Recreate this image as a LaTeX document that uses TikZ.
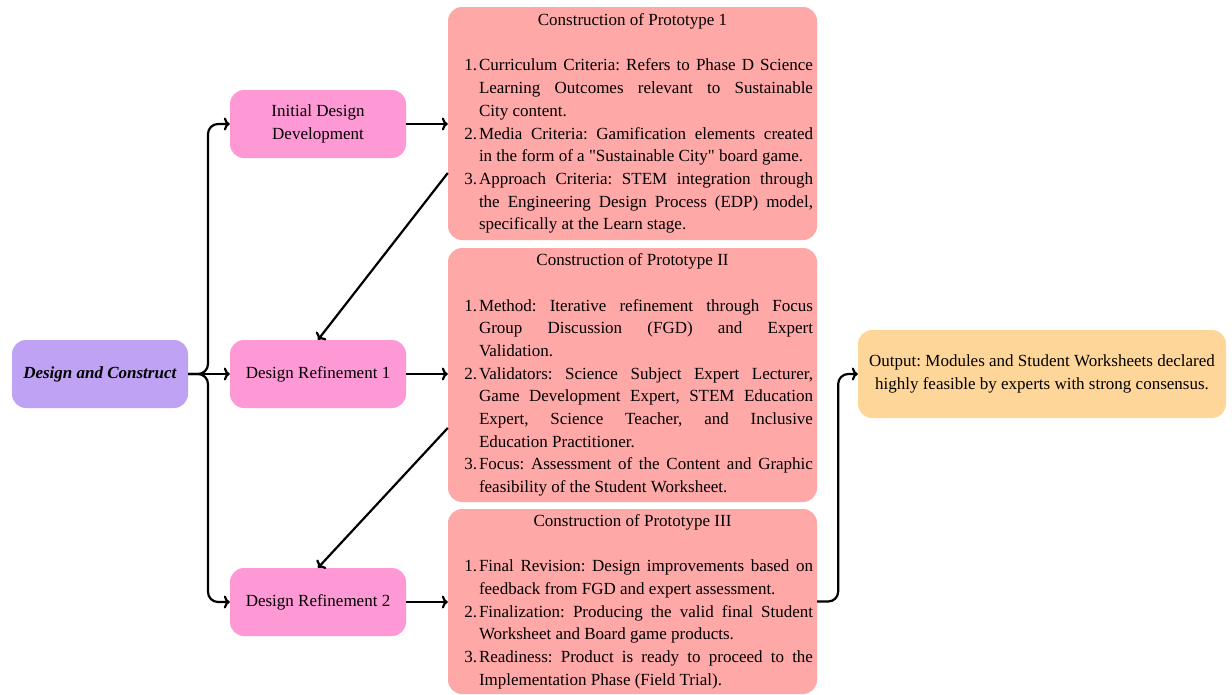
\documentclass[tikz,border=0pt]{standalone}
\usepackage{fontspec}
\setmainfont{Liberation Serif}
\usepackage{enumitem}
\usetikzlibrary{arrows.meta}
\setlist[enumerate]{leftmargin=27pt,labelsep=2pt,itemsep=0pt,topsep=0pt,parsep=0pt,partopsep=0pt}
\definecolor{phasecol}{HTML}{C0A2F4}
\definecolor{stagecol}{HTML}{FF99D6}
\definecolor{protocol}{HTML}{FFA8A8}
\definecolor{outcol}{HTML}{FFD699}
\newcommand{\bodyfont}{\fontsize{17}{22.7}\selectfont}
\hyphenpenalty=10000
\exhyphenpenalty=10000
\tolerance=9999
\emergencystretch=20pt
\frenchspacing

\begin{document}
\begin{tikzpicture}[x=1pt,y=-1pt,
    box/.style={rounded corners=14pt, inner sep=0pt, align=center, font=\bodyfont},
    stage/.style={box, fill=stagecol, minimum width=176, minimum height=68},
    proto/.style={rounded corners=14pt, fill=protocol, minimum width=369, text width=361, inner sep=4pt, align=justify, font=\bodyfont},
    link/.style={line width=2.2pt, -{To[length=6pt,width=13pt]}}]
        \useasboundingbox (0,0) rectangle (1232,694);
        \node[box, fill=phasecol, minimum width=176, minimum height=68] (dc) at (100,374) {\textbf{\textit{Design and Construct}}};
        \node[stage] (idd) at (318,124) {Initial Design\\Development};
        \node[stage] (dr1) at (318,374) {Design Refinement 1};
        \node[stage] (dr2) at (318,602) {Design Refinement 2};
        \node[proto, minimum height=233] (p1) at (632.5,123.5) {{\centering Construction of Prototype 1\par}\vspace{\baselineskip}
            \begin{enumerate}
                \item Curriculum Criteria: Refers to Phase D Science\linebreak Learning Outcomes relevant to Sustainable\linebreak City content.
                \item Media Criteria: Gamification elements created\linebreak in the form of a \textquotedbl Sustainable City\textquotedbl{} board game.
                \item Approach Criteria: STEM integration through\linebreak the Engineering Design Process (EDP) model,\linebreak specifically at the Learn stage.
            \end{enumerate}};
        \node[proto, minimum height=254] (p2) at (632.5,375) {{\centering Construction of Prototype II\par}\vspace{\baselineskip}
            \begin{enumerate}
                \item Method: Iterative refinement through Focus\linebreak Group Discussion (FGD) and Expert\linebreak Validation.
                \item Validators: Science Subject Expert Lecturer,\linebreak Game Development Expert, STEM Education\linebreak Expert, Science Teacher, and Inclusive\linebreak Education Practitioner.
                \item Focus: Assessment of the Content and Graphic\linebreak feasibility of the Student Worksheet.
            \end{enumerate}};
        \node[proto, minimum height=185] (p3) at (632.5,601.5) {{\centering Construction of Prototype III\par}\vspace{\baselineskip}
            \begin{enumerate}
                \item Final Revision: Design improvements based on\linebreak feedback from FGD and expert assessment.
                \item Finalization: Producing the valid final Student\linebreak Worksheet and Board game products.
                \item Readiness: Product is ready to proceed to the\linebreak Implementation Phase (Field Trial).
            \end{enumerate}};
        \node[box, fill=outcol, minimum width=368, minimum height=88] (out) at (1042,374) {Output: Modules and Student Worksheets declared\\highly feasible by experts with strong consensus.};
        \coordinate (split) at (208,374);
        \draw[link, rounded corners=10pt] (dc.east) -- (split) |- (idd.west);
        \draw[link] (dc.east) -- (dr1.west);
        \draw[link, rounded corners=10pt] (dc.east) -- (split) |- (dr2.west);
        \draw[link] (idd.east) -- (idd.east -| p1.west);
        \draw[link] (dr1.east) -- (dr1.east -| p2.west);
        \draw[link] (dr2.east) -- (dr2.east -| p3.west);
        \draw[link] (p1.195) -- (dr1.north);
        \draw[link] (p2.196) -- (dr2.north);
        \draw[link, rounded corners=10pt] (p3.east) -- ++(21,0) |- (out.west);
\end{tikzpicture}
\end{document}
